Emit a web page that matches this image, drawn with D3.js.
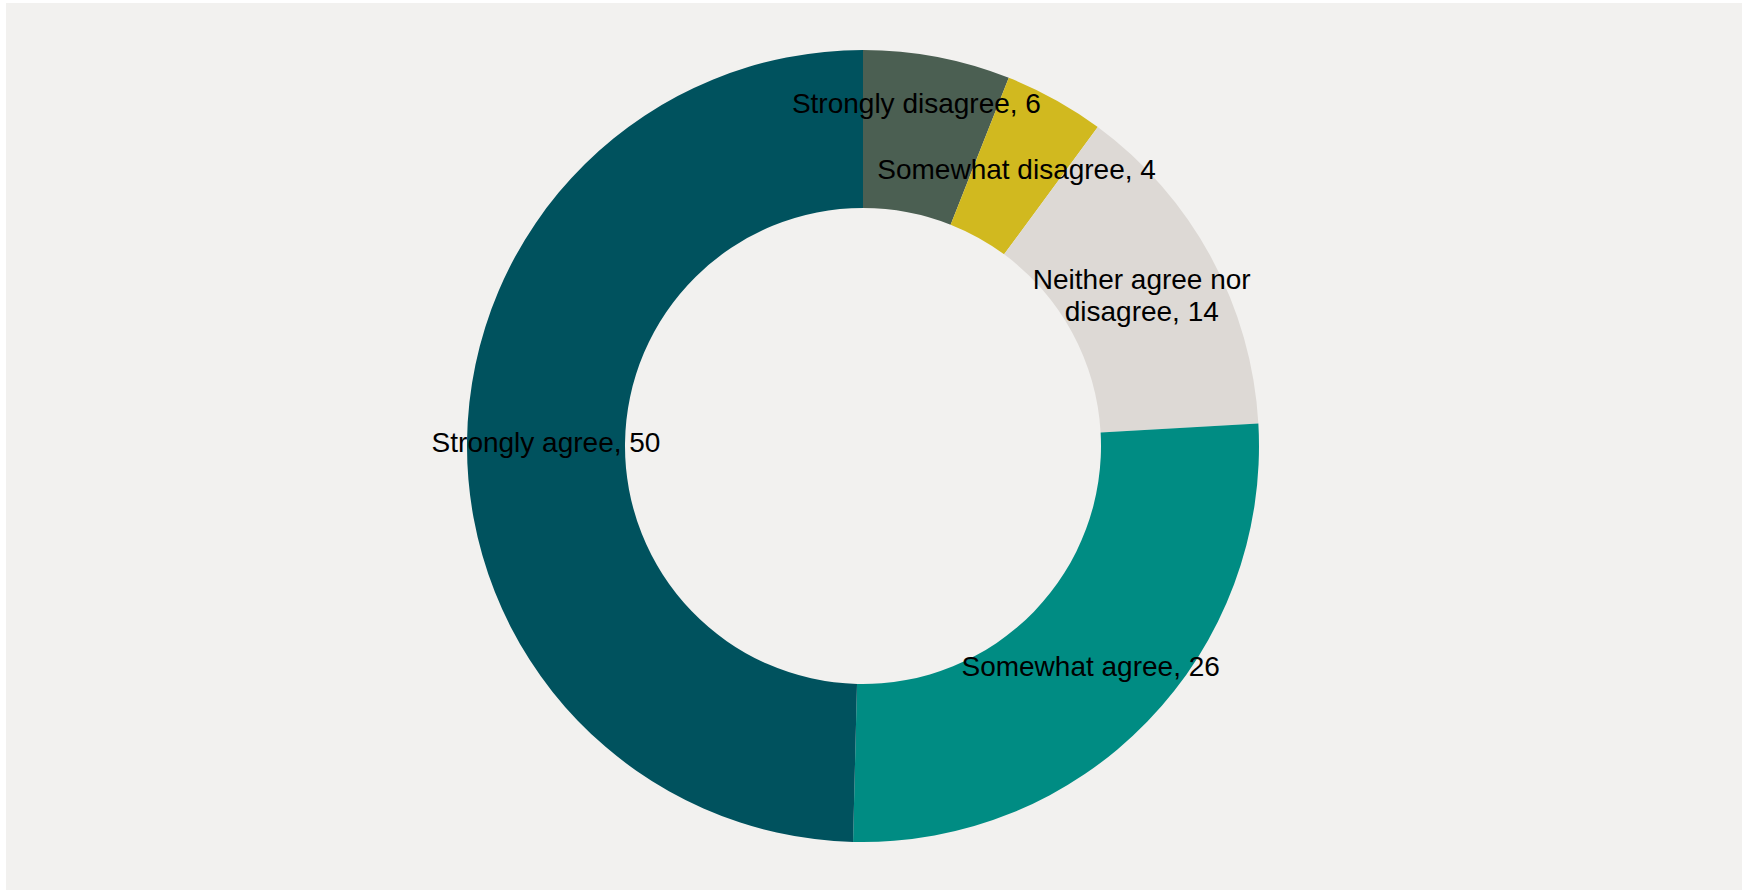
<!DOCTYPE html>
<html>
<head>
<meta charset="utf-8">
<script src="https://cdn.jsdelivr.net/npm/d3@7"></script>
<style>
    html, body { margin: 0; padding: 0; background: #ffffff; }
    #chart { width: 1744px; height: 892px; }
    text { font-family: "Liberation Sans", Arial, Helvetica, sans-serif; }
</style>
</head>
<body>
<div id="chart"></div>
<script>

// answers, clockwise from 12 o'clock
const categories = ["Strongly disagree", "Somewhat disagree", "Neither agree nor disagree", "Somewhat agree", "Strongly agree"]
const values = [6.0, 4.1, 14.0, 26.3, 49.6]
const label_lines = [
    ["Strongly disagree, 6"],
    ["Somewhat disagree, 4"],
    ["Neither agree nor", "disagree, 14"],
    ["Somewhat agree, 26"],
    ["Strongly agree, 50"]
]
const colors = ["#4b5f52", "#d1b91f", "#ddd9d5", "#008c83", "#00525e"]

const width = 1744
const height = 892
const font_size = 28
const line_height = 32.5

const svg = d3.select("#chart").append("svg")
    .attr("width", width)
    .attr("height", height)

svg.append("rect")
    .attr("x", 6)
    .attr("y", 3)
    .attr("width", width - 8)
    .attr("height", height - 5)
    .attr("fill", "#f2f1ef")

const cx = 863
const cy = 446
const outer_r = 396
const inner_r = 238

const data = categories.map((c, i) => ({ name: c, value: values[i], lines: label_lines[i], color: colors[i] }))

const pie = d3.pie()
    .sort(null)
    .value(d => d.value)

const arc = d3.arc()
    .innerRadius(inner_r)
    .outerRadius(outer_r)

const arcs = pie(data)

const g = svg.append("g").attr("transform", `translate(${cx},${cy})`)

g.selectAll("path")
    .data(arcs)
    .join("path")
    .attr("d", arc)
    .attr("fill", d => d.data.color)

// label positions start at the arc centroid
const labels = arcs.map(d => {
    const [x, y] = arc.centroid(d)
    return { x: x, y: y, lines: d.data.lines }
})

// push the upper label up when two neighbours sit too close
for (let i = 0; i < labels.length - 1; i++) {
    const a = labels[i], b = labels[i + 1]
    const gap = b.y - a.y
    const min_gap = 2.35 * font_size
    if (gap > 0 && gap < min_gap && Math.abs(a.x - b.x) < 200) {
        a.y = b.y - min_gap
        a.x -= 6
    }
}

const label_g = g.selectAll("g.label")
    .data(labels)
    .join("g")
    .attr("class", "label")
    .attr("transform", d => `translate(${d.x},${d.y})`)

label_g.append("text")
    .attr("text-anchor", "middle")
    .style("font-size", font_size + "px")
    .style("fill", "#000000")
    .each(function (d) {
        const n = d.lines.length
        d3.select(this).selectAll("tspan")
            .data(d.lines)
            .join("tspan")
            .attr("x", 0)
            .attr("y", (t, j) => (j - (n - 1) / 2) * line_height + font_size * 0.35)
            .text(t => t)
    })

</script>
</body>
</html>
